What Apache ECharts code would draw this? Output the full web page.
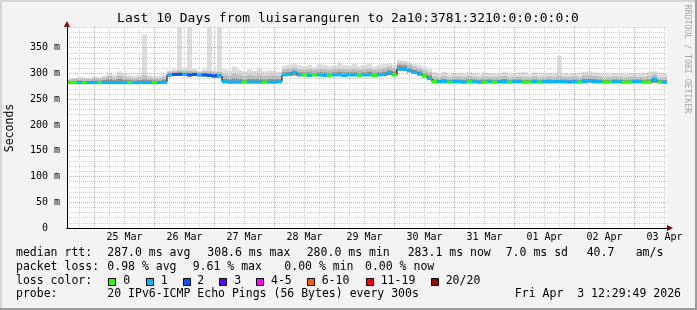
<!DOCTYPE html>
<html><head><meta charset="utf-8">
<script src="https://cdn.jsdelivr.net/npm/echarts@6/dist/echarts.min.js"></script>
<style>
html,body{margin:0;padding:0;background:#f3f3f3;}
#wrap{position:relative;width:697px;height:310px;overflow:hidden;}
#chart{width:697px;height:310px;}
#frame{position:absolute;left:0;top:0;width:697px;height:310px;box-sizing:border-box;pointer-events:none;
 box-shadow: inset -2px -2px 0 #9c9c9c, inset 2px 2px 0 #d6d6d6;}
</style></head>
<body><div id="wrap"><div id="chart"></div><div id="frame"></div></div>
<script>
// ---- DATA (hours relative to 25 Mar 00:00, centre of each 2-hour sample) ----
const hours = [
 -10,-8,-6,-4,-2,0,2,4,6,8,
 10,12,14,16,18,20,22,24,26,28,
 30,32,34,36,38,40,42,44,46,48,
 50,52,54,56,58,60,62,64,66,68,
 70,72,74,76,78,80,82,84,86,88,
 90,92,94,96,98,100,102,104,106,108,
 110,112,114,116,118,120,122,124,126,128,
 130,132,134,136,138,140,142,144,146,148,
 150,152,154,156,158,160,162,164,166,168,
 170,172,174,176,178,180,182,184,186,188,
 190,192,194,196,198,200,202,204,206,208,
 210,212,214,216,218,220,222,224,226,228];
// median rtt (ms)
const median = [
 282,282,282,282,282,282,282,282,282,282,
 282,282,282,282,282,282,282,282,282,283,
 297,298,298,298,297,298,297,297,296,295,
 295,284,283,283,283,283,283,283,283,283,
 283,283,284,297,298,302,297,297,296,297,
 297,296,296,297,297,296,297,297,296,297,
 297,296,297,298,301,297,309,308,306,302,
 299,295,290,284,284,284,283,284,284,283,
 284,284,283,283,284,283,284,284,283,284,
 284,283,283,284,283,284,284,284,284,284,
 283,284,283,284,286,284,284,283,283,284,
 284,283,283,284,284,283,283,288,283,283];
// loss colour class (index into lossColors)
const loss = [
 0,0,1,0,1,1,0,1,1,1,
 1,1,0,1,1,1,1,0,1,1,
 1,2,2,1,2,2,1,2,2,2,
 1,1,1,1,1,0,1,1,1,0,
 1,1,1,1,1,1,1,0,1,0,
 1,1,0,1,1,1,1,1,0,1,
 1,0,1,1,1,0,1,1,1,1,
 1,0,1,0,1,1,0,1,1,1,
 0,1,1,0,1,0,1,1,0,1,
 1,0,0,1,0,1,1,1,1,1,
 1,1,0,1,1,1,1,0,0,1,
 1,0,0,1,1,0,0,1,0,1];
// smoke: lowest ping, inner (dark) top, middle top, outer (light) top
const smokeLo = [
 280,280,280,280,280,280,280,280,280,280,
 280,280,280,280,280,280,280,280,280,281,
 294,295,295,295,294,295,294,294,293,292,
 292,281,281,281,281,281,281,281,281,281,
 281,281,282,295,295,296,295,295,294,295,
 295,294,294,295,295,294,295,295,294,295,
 295,294,295,295,297,295,305,305,302,299,
 296,292,287,281,281,281,281,281,281,281,
 281,281,281,281,281,281,281,281,281,281,
 281,281,281,281,281,281,281,281,281,281,
 281,281,281,281,282,281,281,281,281,281,
 281,281,281,281,281,281,281,282,281,281];
const smokeDark = [
 285,285,286,285,285,286,286,287,289,287,
 290,288,287,286,287,288,287,286,286,288,
 300,301,302,301,301,301,300,300,300,299,
 299,290,289,291,289,288,290,289,290,288,
 289,289,289,302,303,305,302,302,302,301,
 302,302,301,302,303,302,302,302,301,302,
 303,301,302,303,306,304,316,315,311,307,
 304,300,296,288,288,289,287,288,288,287,
 289,288,287,288,288,287,288,289,287,288,
 288,287,287,288,287,288,288,287,288,288,
 287,288,287,290,291,289,288,287,287,288,
 288,287,287,288,288,287,289,292,287,287];
const smokeMid = [
 288,289,290,289,289,291,290,292,295,292,
 296,294,292,291,292,296,292,291,291,293,
 303,304,306,305,305,304,303,304,304,302,
 303,297,296,299,297,295,297,296,298,295,
 296,296,295,308,309,311,308,307,308,307,
 309,308,307,308,310,308,308,309,307,308,
 310,307,308,310,313,310,321,320,317,313,
 310,306,302,294,293,295,292,293,294,293,
 295,293,292,294,293,293,294,295,292,293,
 294,293,292,294,292,293,294,293,296,293,
 293,294,292,296,297,295,294,292,293,294,
 293,292,293,294,293,293,295,298,292,292];
const smokeHi = [
 290,291,293,292,291,294,293,296,302,297,
 304,300,297,296,298,375,297,295,296,298,
 306,308,390,310,390,309,305,308,390,306,
 390,308,306,313,307,304,308,305,309,304,
 306,305,303,315,317,320,316,314,317,313,
 318,316,314,316,321,316,315,318,314,316,
 320,314,317,318,320,316,326,325,322,318,
 316,312,308,302,300,303,298,300,301,299,
 303,300,298,302,300,299,301,303,298,300,
 302,303,298,302,298,300,301,299,334,300,
 299,300,298,303,304,302,301,298,299,301,
 300,299,300,301,300,301,303,304,299,298];
const dayLabels = ['25 Mar','26 Mar','27 Mar','28 Mar','29 Mar','30 Mar','31 Mar','01 Apr','02 Apr','03 Apr'];
const lossColors = ['#26ff00','#00b8ff','#0059ff','#5e00ff','#ff00ff','#ff5e00','#ff0000','#a10000'];
const lossLabels = ['0','1','2','3','4-5','6-10','11-19','20/20'];
const statsRtt = ['287.0 ms avg','308.6 ms max','280.0 ms min','283.1 ms now','7.0 ms sd','40.7','am/s'];
const statsLoss = ['0.98 % avg','9.61 % max','0.00 % min','0.00 % now'];
const titleText = 'Last 10 Days from luisaranguren to 2a10:3781:3210:0:0:0:0:0';
const probeText = '20 IPv6-ICMP Echo Pings (56 Bytes) every 300s';
const dateText = 'Fri Apr  3 12:29:49 2026';

// ---- LAYOUT / STYLE ----
const X_MIN = -11, X_MAX = 229;
const FONT = "'DejaVu Sans Mono', monospace";
const HALF = 1; // half width of a sample, hours
const PINK = '#f09c9c', GRAY = '#cfcfcf';
// vertical grid: every 6 hours, pink at midnight
const vGray = [], vPink = [];
for (let h = -6; h <= 228; h += 6) {
  if (h % 24 === 0) vPink.push({xAxis: h}); else vGray.push({xAxis: h});
}
const statsRttX = [107.3, 207.3, 306.7, 407.7, 505.7, 586.7, 635.7];
const statsLossX = [107.3, 192.7, 284.3, 365];
const legendBoxX = [108.3, 145.7, 182.7, 219.3, 256.3, 306.7, 365.7, 430.7];
const legendTextX = [123.3, 160.7, 197.3, 234.3, 271, 321.7, 380.7, 445.7];
const rowY = [253, 267, 281, 294.5];

function txt(x, y, text, size, extra) {
  const st = Object.assign({text: text, font: size + 'px ' + FONT, fill: '#000',
    align: 'left', verticalAlign: 'middle', textAlign: 'left', textVerticalAlign: 'middle'}, extra || {});
  return {type: 'text', x: x, y: y, silent: true, style: st};
}
const graphics = [];
graphics.push(txt(348, 19, titleText, 13, {align: 'center', textAlign: 'center'}));
const sec = txt(10, 128, 'Seconds', 11.5, {align: 'center', textAlign: 'center'}); sec.rotation = Math.PI / 2; graphics.push(sec);
const rrd = txt(687, 59, 'RRDTOOL / TOBI OETIKER', 8.2, {align: 'center', textAlign: 'center', fill: '#a8a8a8'}); rrd.rotation = -Math.PI / 2; graphics.push(rrd);
graphics.push(txt(16, rowY[0], 'median rtt:', 11.5));
statsRtt.forEach((s, i) => graphics.push(txt(statsRttX[i], rowY[0], s, 11.5)));
graphics.push(txt(16, rowY[1], 'packet loss:', 11.5));
statsLoss.forEach((s, i) => graphics.push(txt(statsLossX[i], rowY[1], s, 11.5)));
graphics.push(txt(16, rowY[2], 'loss color:', 11.5));
lossLabels.forEach((s, i) => {
  graphics.push({type: 'rect', silent: true, shape: {x: Math.round(legendBoxX[i]) + 0.5, y: 278.5, width: 7, height: 7},
    style: {fill: lossColors[i], stroke: '#000', lineWidth: 1}});
  graphics.push(txt(legendTextX[i], rowY[2], s, 11.5));
});
graphics.push(txt(16, rowY[3], 'probe:', 11.5));
graphics.push(txt(107.3, rowY[3], probeText, 11.5));
graphics.push(txt(681, rowY[3], dateText, 11.5, {align: 'right', textAlign: 'right'}));

function bandSeries(top, color) {
  return {
    type: 'custom', coordinateSystem: 'cartesian2d', clip: true, silent: true, z: 1,
    data: hours.map((h, i) => [h, smokeLo[i], top[i]]),
    encode: {x: 0, y: [1, 2]},
    renderItem: function (params, api) {
      const h = api.value(0);
      const a = api.coord([h - HALF, api.value(1)]);
      const b = api.coord([h + HALF, api.value(2)]);
      return {type: 'rect', shape: {x: a[0], y: b[1], width: b[0] - a[0], height: a[1] - b[1]}, style: {fill: color}};
    }
  };
}

const axisFont = {fontFamily: FONT, fontSize: 10, color: '#000'};
const dotted = (c) => ({color: c, type: [1, 1], width: 1});
const option = {
  animation: false,
  backgroundColor: '#f3f3f3',
  grid: {left: 67, top: 27, width: 600, height: 201, show: true, backgroundColor: '#ffffff', borderWidth: 0},
  xAxis: [{
    type: 'value', min: X_MIN, max: X_MAX, interval: 1, position: 'bottom', z: 2,
    axisLine: {show: true, onZero: false, symbol: ['none', 'triangle'], symbolSize: [6, 6], symbolOffset: [0, 3],
      lineStyle: {color: '#900000', width: 1}},
    axisTick: {show: false},
    axisLabel: Object.assign({show: true, margin: 4, formatter: function (v) {
      const k = (Math.round(v) - 12) / 24;
      return (Number.isInteger(k) && k >= 0 && k < dayLabels.length) ? dayLabels[k] : '';
    }}, axisFont),
    splitLine: {show: false}
  }, {
    type: 'value', min: X_MIN, max: X_MAX, position: 'bottom', z: 6,
    axisLine: {show: true, onZero: false, lineStyle: {color: '#000', width: 1}},
    axisTick: {show: false}, axisLabel: {show: false}, splitLine: {show: false}
  }],
  yAxis: [{
    type: 'value', min: 0, max: 390, interval: 10, position: 'left', z: 2,
    axisLine: {show: true, onZero: false, symbol: ['none', 'triangle'], symbolSize: [6, 6], symbolOffset: [0, 3],
      lineStyle: {color: '#900000', width: 1}},
    axisTick: {show: false},
    axisLabel: Object.assign({show: true, margin: 7, formatter: function (v) {
      const r = Math.round(v);
      if (r % 50 !== 0) return '';
      return r === 0 ? '0  ' : r + ' m';
    }}, axisFont),
    splitLine: {show: true, lineStyle: dotted(GRAY)}
  }, {
    type: 'value', min: 0, max: 390, position: 'left', z: 6,
    axisLine: {show: true, onZero: false, lineStyle: {color: '#000', width: 1}},
    axisTick: {show: false}, axisLabel: {show: false}, splitLine: {show: false}
  }, {
    type: 'value', min: 0, max: 390, interval: 50, position: 'left', z: 3,
    axisLine: {show: false, onZero: false}, axisTick: {show: false}, axisLabel: {show: false},
    splitLine: {show: true, showMinLine: false, showMaxLine: false, lineStyle: dotted(PINK)}
  }],
  series: [
    bandSeries(smokeHi, '#dddddd'),
    bandSeries(smokeMid, '#bcbcbc'),
    bandSeries(smokeDark, '#8f8f8f'),
    {
      type: 'line', symbol: 'none', silent: true, z: 3,
      data: hours.map((h, i) => [h, median[i]]),
      lineStyle: {opacity: 0},
      markLine: {silent: true, z: 3, symbol: ['none', 'none'], label: {show: false}, animation: false,
        lineStyle: dotted(GRAY), emphasis: {disabled: true}, data: vGray}
    },
    {
      type: 'line', symbol: 'none', silent: true, z: 3,
      data: hours.map((h, i) => [h, median[i]]),
      lineStyle: {opacity: 0},
      markLine: {silent: true, z: 3, symbol: ['none', 'none'], label: {show: false}, animation: false,
        lineStyle: dotted(PINK), emphasis: {disabled: true}, data: vPink}
    },
    {
      type: 'line', step: 'middle', symbol: 'none', silent: true, z: 4,
      data: hours.map((h, i) => [h, median[i]]),
      lineStyle: {color: '#000', width: 1}
    },
    {
      type: 'custom', coordinateSystem: 'cartesian2d', clip: true, silent: true, z: 5,
      data: hours.map((h, i) => [h, median[i], loss[i]]),
      encode: {x: 0, y: 1},
      renderItem: function (params, api) {
        const h = api.value(0);
        const a = api.coord([h - HALF, api.value(1)]);
        const b = api.coord([h + HALF, api.value(1)]);
        return {type: 'rect', shape: {x: a[0], y: a[1] - 1.5, width: b[0] - a[0], height: 3},
          style: {fill: lossColors[api.value(2)]}};
      }
    }
  ],
  graphic: graphics
};
const chart = echarts.init(document.getElementById('chart'));
chart.setOption(option);
</script>
</body></html>
